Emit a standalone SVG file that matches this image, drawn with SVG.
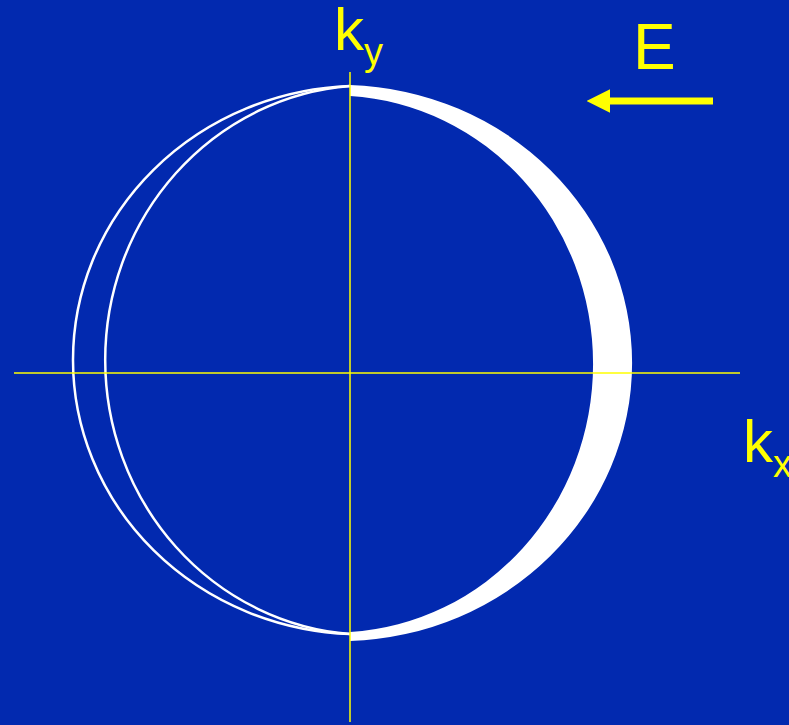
<svg xmlns="http://www.w3.org/2000/svg" width="789" height="725" viewBox="0 0 789 725">
<style>
.axis{stroke:#FFFF00;stroke-width:1.5;fill:none}
.ring{stroke:#FFFFFF;stroke-width:2.5;fill:none}
.lbl{fill:#FFFF00;font-family:"Liberation Sans",Arial,sans-serif}
</style>
<defs>
<marker id="ah" viewBox="0 0 10 10" refX="1" refY="5" markerWidth="3.4" markerHeight="3.4" orient="auto-start-reverse" markerUnits="strokeWidth">
<path d="M0 0 L10 5 L0 10 Z" fill="#FFFF00"/>
</marker>
</defs>
<rect width="789" height="725" fill="#0229AF"/>
<g id="shells">
<path d="M350 84.96 A292 278.2 0 0 1 350 641.04 L350 632.05 A258 268.5 0 0 0 350 95.95 Z" fill="#FFFFFF"/>
<path class="ring" d="M350 86 A288 274.2 0 0 0 350 634"/>
<path class="ring" d="M350 86 A265 274.8 0 0 0 350 634"/>
</g>
<g id="connectors">
<line class="axis" x1="14" y1="373" x2="740" y2="373"/>
<line class="axis" x1="350" y1="72" x2="350" y2="722"/>
<line x1="713" y1="101" x2="608" y2="101" stroke="#FFFF00" stroke-width="7" marker-end="url(#ah)"/>
</g>
<g id="label-E"><text class="lbl" x="633" y="69" font-size="64">E</text></g>
<g id="label-ky"><text class="lbl" x="334" y="50" font-size="60">k<tspan font-size="38" dy="15">y</tspan></text></g>
<g id="label-kx"><text class="lbl" x="743" y="462" font-size="60">k<tspan font-size="38" dy="15">x</tspan></text></g>
</svg>
